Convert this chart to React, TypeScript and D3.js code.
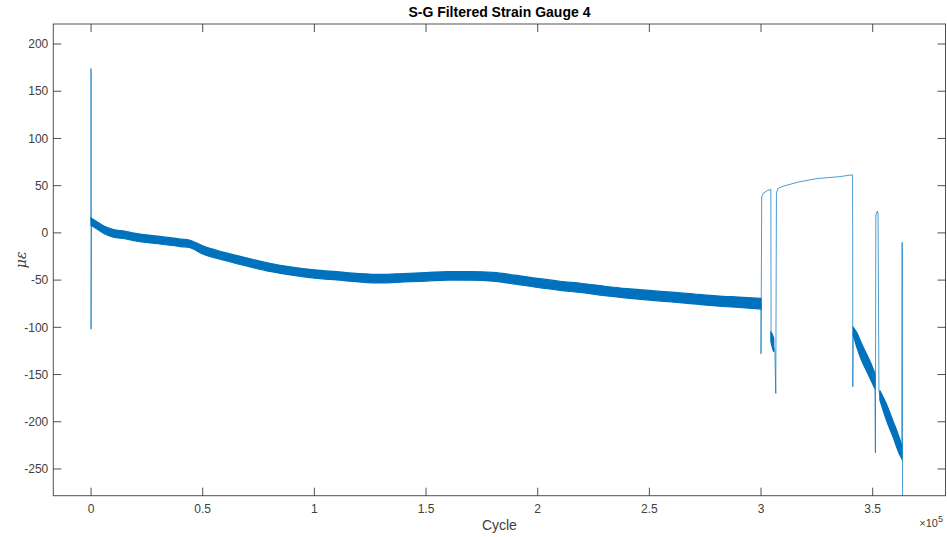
import React from 'react'
import * as d3 from 'd3'

const width = 947
const height = 537
const margin = { top: 24, right: 1.5, bottom: 41.3, left: 53.3 }

const title = 'S-G Filtered Strain Gauge 4'
const xTicks = [0, 0.5, 1, 1.5, 2, 2.5, 3, 3.5]
const yTicks = [-250, -200, -150, -100, -50, 0, 50, 100, 150, 200]

// thick noisy band: [cycle (x1e5), strain, half spread]
const bandMain = [
  [0, 12, 3.8], [0.03, 7.5, 3.8], [0.06, 3, 3.9], [0.08, 1, 4], [0.1, -0.5, 4], [0.15, -2, 4],
  [0.2, -4.5, 4], [0.3, -7.5, 4], [0.4, -10.5, 4], [0.44, -11.5, 4],
  [0.5, -18, 4.2], [0.6, -25, 4.2], [0.7, -31, 4.3], [0.8, -36.5, 4.3], [0.9, -40.5, 4.3],
  [1.0, -43.5, 4.4], [1.1, -45.5, 4.4], [1.2, -47.5, 4.4], [1.3, -48.5, 4.5], [1.4, -47.5, 4.5],
  [1.5, -46.5, 4.5], [1.6, -45.5, 4.5], [1.7, -45.5, 4.6], [1.8, -46.5, 4.6], [1.9, -49.5, 4.7],
  [2.0, -53, 4.8], [2.1, -56, 4.8], [2.2, -58.5, 4.9], [2.3, -61.5, 5], [2.4, -64, 5],
  [2.5, -66, 5.1], [2.6, -68, 5.2], [2.7, -70, 5.3], [2.8, -72, 5.4], [2.9, -73.5, 5.5],
  [3.0, -75, 5.6]
]
const bandB = [[3.044, -110, 5], [3.05, -114, 7], [3.057, -119, 7]]
const bandC = [
  [3.413, -104, 4], [3.43, -114, 8], [3.45, -126, 9], [3.47, -136, 9],
  [3.49, -146, 9], [3.51, -157, 8]
]
const bandD = [[3.532, -172, 5], [3.56, -189, 8.5], [3.59, -207, 8.5], [3.62, -226, 8.5], [3.63, -232, 7]]

// thin parts of the trace: spikes and the upper plateau
const traceStart = [[0, 12], [0, 174], [0, -102], [0.002, 10]]
const traceJump = [
  [3.0, -75], [3.0, -128], [3.003, 38], [3.01, 42], [3.03, 45], [3.044, 46], [3.045, -106]
]
const tracePlateau = [
  [3.057, -120], [3.062, -125], [3.066, -170], [3.069, 42], [3.075, 47], [3.1, 49.5],
  [3.17, 54], [3.25, 57.5], [3.35, 59.5], [3.41, 61.5], [3.411, -163], [3.413, -101]
]
const traceSecond = [
  [3.51, -157], [3.512, -233], [3.514, 18], [3.52, 23], [3.524, 21], [3.528, -168], [3.532, -172]
]
const traceEnd = [[3.63, -233], [3.632, -10], [3.634, -300]]

const App = () => {
  const x = d3.scaleLinear()
    .domain([-0.169, 3.826])
    .range([margin.left, width - margin.right])
  const y = d3.scaleLinear()
    .domain([-278.3, 221.2])
    .range([height - margin.bottom, margin.top])

  const x0 = margin.left
  const x1 = width - margin.right
  const y0 = margin.top
  const y1 = height - margin.bottom

  const area = d3.area<number[]>()
    .x(d => x(d[0]))
    .y0(d => y(d[1] - d[2]))
    .y1(d => y(d[1] + d[2]))
    .curve(d3.curveMonotoneX)
  const line = d3.line<number[]>()
    .x(d => x(d[0]))
    .y(d => y(d[1]))

  const blue = '#0072BD'
  const axisCol = '#262626'
  const tickLen = 8
  const font = 'Liberation Sans, Arial, Helvetica, sans-serif'

  return (
    <svg width={width} height={height} style={{ position: 'absolute', left: 0, top: 0, background: '#fff' }}
      fontFamily={font}>
      <defs>
        <clipPath id="plotclip">
          <rect x={x0} y={y0} width={x1 - x0} height={y1 - y0} />
        </clipPath>
      </defs>

      <g clipPath="url(#plotclip)">
        {[bandMain, bandB, bandC, bandD].map((b, i) => (
          <path key={i} d={area(b) || ''} fill={blue} stroke={blue} strokeWidth={1.2} />
        ))}
        {[traceStart, traceJump, tracePlateau, traceSecond, traceEnd].map((t, i) => (
          <path key={i} d={line(t) || ''} fill="none" stroke={blue} strokeWidth={1} strokeOpacity={0.7} />
        ))}
      </g>

      {/* axes box */}
      <rect x={x0} y={y0} width={x1 - x0} height={y1 - y0} fill="none" stroke={axisCol} strokeWidth={1} strokeOpacity={0.8} />

      {xTicks.map(t => (
        <g key={'x' + t}>
          <line x1={x(t)} x2={x(t)} y1={y1} y2={y1 - tickLen} stroke={axisCol} strokeOpacity={0.8} />
          <line x1={x(t)} x2={x(t)} y1={y0} y2={y0 + tickLen} stroke={axisCol} strokeOpacity={0.8} />
          <text x={x(t)} y={y1 + 17} textAnchor="middle" fontSize={12} fill="#404040">{String(t)}</text>
        </g>
      ))}
      {yTicks.map(t => (
        <g key={'y' + t}>
          <line x1={x0} x2={x0 + tickLen} y1={y(t)} y2={y(t)} stroke={axisCol} strokeOpacity={0.8} />
          <line x1={x1} x2={x1 - tickLen} y1={y(t)} y2={y(t)} stroke={axisCol} strokeOpacity={0.8} />
          <text x={x0 - 5} y={y(t)} dy="0.35em" textAnchor="end" fontSize={12} fill="#404040">{String(t)}</text>
        </g>
      ))}

      <text x={(x0 + x1) / 2} y={17} textAnchor="middle" fontSize={14} fontWeight="bold" fill="#000">{title}</text>
      <text x={(x0 + x1) / 2} y={530} textAnchor="middle" fontSize={14} fill="#404040">Cycle</text>
      <text transform={`translate(26,${(y0 + y1) / 2}) rotate(-90)`} textAnchor="middle" fontSize={14}
        fontStyle="italic" fill="#404040" fontFamily="DejaVu Serif, serif">με</text>
      <text x={943} y={527} textAnchor="end" fontSize={11} fill="#404040">
        ×10<tspan dy={-5} fontSize={9}>5</tspan>
      </text>
    </svg>
  )
}

export default App
